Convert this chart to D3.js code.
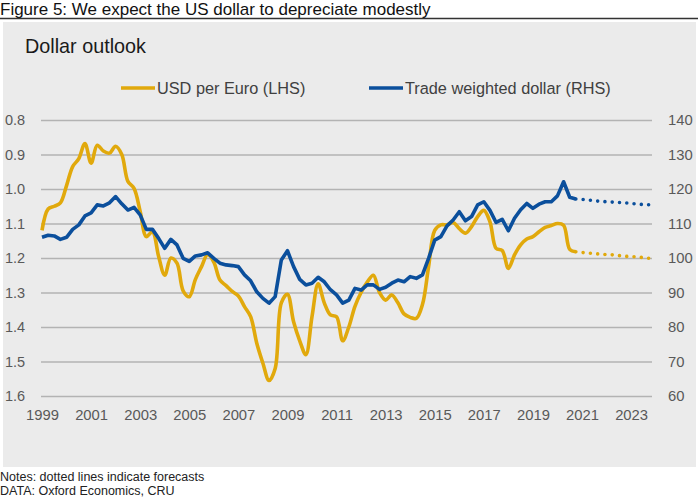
<!DOCTYPE html>
<html>

<head>
    <meta charset="utf-8">
    <title>Dollar outlook</title>
    <script type="text/javascript" src="https://cdn.jsdelivr.net/npm/d3@7"></script>
    <style>
        body { margin: 0; background: #fff; }
    </style>
</head>

<body>

    <script type="text/javascript">
    /* data: quarterly, 1999Q1 .. 2020Q4 actual, 2021Q1 .. 2023Q4 forecast */
    var firstYear = 1999;

    // USD per Euro (LHS, inverted)
    var usdPerEuro = [
        1.12, 1.058, 1.05, 1.04, 0.99, 0.935, 0.912, 0.868,       // 1999-2000
        0.925, 0.873, 0.89, 0.896, 0.876, 0.90, 0.978, 0.998,     // 2001-2002
        1.065, 1.138, 1.124, 1.195, 1.25, 1.20, 1.215, 1.295,     // 2003-2004
        1.312, 1.262, 1.225, 1.19, 1.212, 1.264, 1.28, 1.297,     // 2005-2006
        1.31, 1.341, 1.37, 1.447, 1.505, 1.555, 1.52, 1.33,       // 2007-2008
        1.305, 1.385, 1.44, 1.48, 1.37, 1.275, 1.33, 1.365,       // 2009-2010
        1.37, 1.44, 1.40, 1.34, 1.30, 1.27, 1.25, 1.30,           // 2011-2012
        1.322, 1.307, 1.33, 1.362, 1.372, 1.375, 1.335, 1.225,    // 2013-2014
        1.12, 1.104, 1.104, 1.097, 1.115, 1.128, 1.109, 1.08,     // 2015-2016
        1.062, 1.095, 1.172, 1.178, 1.23, 1.191, 1.162, 1.145,    // 2017-2018
        1.138, 1.124, 1.111, 1.106, 1.10, 1.105, 1.175, 1.182     // 2019-2020
    ];
    var usdPerEuroForecast = [1.184, 1.186, 1.187, 1.189, 1.190, 1.191, 1.193, 1.195, 1.196, 1.197, 1.199, 1.201];

    // Trade weighted dollar (RHS)
    var tradeWeighted = [
        106.0, 106.6, 106.4, 105.4, 106.0, 108.3, 109.6, 112.2,
        113.1, 115.4, 115.1, 116.0, 117.8, 115.7, 113.9, 114.7,
        112.5, 108.3, 108.3, 105.7, 102.8, 105.4, 103.8, 99.9,
        99.0, 100.6, 100.9, 101.5, 99.9, 98.5, 98.0, 97.8,
        97.5, 95.1, 93.4, 90.2, 88.3, 86.9, 88.8, 99.4,
        102.1, 97.5, 93.8, 92.2, 92.7, 94.4, 93.1, 90.8,
        89.3, 86.9, 87.8, 91.2, 90.7, 92.2, 92.2, 90.9,
        91.5, 92.7, 93.6, 93.1, 94.6, 94.1, 95.1, 99.9,
        105.2, 106.2, 109.3, 111.0, 113.4, 110.8, 112.0, 115.4,
        116.3, 113.8, 110.3, 111.2, 107.9, 111.5, 114.0, 115.8,
        114.4, 115.6, 116.3, 116.3, 118.0, 122.1, 117.6, 117.1
    ];
    var tradeWeightedForecast = [117.0, 116.8, 116.6, 116.4, 116.3, 116.2, 116.1, 116.0, 115.8, 115.6, 115.5, 115.4];

    var xTickYears = [1999, 2001, 2003, 2005, 2007, 2009, 2011, 2013, 2015, 2017, 2019, 2021, 2023];
    var leftTicks = [0.8, 0.9, 1.0, 1.1, 1.2, 1.3, 1.4, 1.5, 1.6];
    var rightTicks = [60, 70, 80, 90, 100, 110, 120, 130, 140];

    var seriesNames = ['USD per Euro (LHS)', 'Trade weighted dollar (RHS)'];
    var seriesColors = ['#e1a90c', '#0b4f9c'];

    function DollarChart() {
        var width = 698, height = 497;
        var plotLeft = 42, plotRight = 649.5, plotTop = 120, plotBottom = 396;
        var labelFont = '"Liberation Sans", Arial, sans-serif';
        var narrowFont = '"Liberation Sans Narrow", "Arial Narrow", "Liberation Sans", Arial, sans-serif';

        var svg = d3.select('body').append('svg')
            .attr('width', width)
            .attr('height', height);

        // header
        svg.append('text')
            .attr('x', 0).attr('y', 15)
            .attr('font-family', narrowFont)
            .attr('font-size', '17px')
            .attr('fill', '#111')
            .text('Figure 5: We expect the US dollar to depreciate modestly');
        svg.append('line')
            .attr('x1', 0).attr('x2', width)
            .attr('y1', 18.5).attr('y2', 18.5)
            .attr('stroke', '#333').attr('stroke-width', 1.5);

        // panel
        svg.append('rect')
            .attr('x', 3).attr('y', 22)
            .attr('width', 693).attr('height', 445)
            .attr('fill', '#ebebeb');

        svg.append('text')
            .attr('x', 25).attr('y', 53)
            .attr('font-family', labelFont)
            .attr('font-size', '19.8px')
            .attr('fill', '#1a1a1a')
            .text('Dollar outlook');

        /* scales */
        var x = d3.scaleLinear()
            .domain([firstYear, firstYear + 24.75])
            .range([plotLeft, plotRight]);
        var yLeft = d3.scaleLinear().domain([0.8, 1.6]).range([plotTop, plotBottom]);
        var yRight = d3.scaleLinear().domain([60, 140]).range([plotBottom, plotTop]);

        function qx(i) { return x(firstYear + i / 4); }

        /* gridlines + left axis */
        var leftAxis = d3.axisLeft(yLeft)
            .tickValues(leftTicks)
            .tickFormat(d3.format('.1f'))
            .tickSize(-(652 - 41))
            .tickPadding(13);
        var gl = svg.append('g')
            .attr('transform', 'translate(41,0)')
            .call(leftAxis);
        gl.select('.domain').remove();
        gl.selectAll('.tick line').attr('stroke', '#b3b3b3').attr('stroke-width', 1.3);
        gl.selectAll('.tick text')
            .attr('font-family', labelFont)
            .attr('font-size', '14.5px')
            .attr('fill', '#595959')
            .attr('text-anchor', 'start')
            .attr('x', -36);

        /* right axis */
        var rightAxis = d3.axisRight(yRight)
            .tickValues(rightTicks)
            .tickSize(0)
            .tickPadding(16);
        var gr = svg.append('g')
            .attr('transform', 'translate(652,0)')
            .call(rightAxis);
        gr.select('.domain').remove();
        gr.selectAll('.tick text')
            .attr('font-family', labelFont)
            .attr('font-size', '14.8px')
            .attr('fill', '#595959');

        /* bottom axis */
        var bottomAxis = d3.axisBottom(x)
            .tickValues(xTickYears)
            .tickFormat(d3.format('d'))
            .tickSize(0)
            .tickPadding(13);
        var gb = svg.append('g')
            .attr('transform', 'translate(0,' + plotBottom + ')')
            .call(bottomAxis);
        gb.select('.domain').remove();
        gb.selectAll('.tick text')
            .attr('font-family', labelFont)
            .attr('font-size', '14.8px')
            .attr('fill', '#595959');

        /* lines */
        var euroLine = d3.line()
            .x(function(d) { return qx(d.i); })
            .y(function(d) { return yLeft(d.v); })
            .curve(d3.curveCatmullRom.alpha(0.5));
        var twLine = d3.line()
            .x(function(d) { return qx(d.i); })
            .y(function(d) { return yRight(d.v); });

        function indexed(arr, start) {
            return arr.map(function(v, k) { return { i: start + k, v: v }; });
        }
        var nHist = usdPerEuro.length;
        var euroHist = indexed(usdPerEuro, 0);
        var euroFc = [euroHist[nHist - 1]].concat(indexed(usdPerEuroForecast, nHist));
        var twHist = indexed(tradeWeighted, 0);
        var twFc = [twHist[nHist - 1]].concat(indexed(tradeWeightedForecast, nHist));

        svg.append('path').datum(euroHist)
            .attr('d', euroLine)
            .attr('fill', 'none')
            .attr('stroke', seriesColors[0])
            .attr('stroke-width', 3.6)
            .attr('stroke-linejoin', 'round');
        svg.append('path').datum(euroFc)
            .attr('d', euroLine)
            .attr('fill', 'none')
            .attr('stroke', seriesColors[0])
            .attr('stroke-width', 3.6)
            .attr('stroke-linecap', 'round')
            .attr('stroke-dasharray', '0 7.3');

        svg.append('path').datum(twHist)
            .attr('d', twLine)
            .attr('fill', 'none')
            .attr('stroke', seriesColors[1])
            .attr('stroke-width', 3.6)
            .attr('stroke-linejoin', 'round');
        svg.append('path').datum(twFc)
            .attr('d', twLine)
            .attr('fill', 'none')
            .attr('stroke', seriesColors[1])
            .attr('stroke-width', 3.6)
            .attr('stroke-linecap', 'round')
            .attr('stroke-dasharray', '0 7.3');

        /* legend */
        var legendX = [121, 369];
        var legend = svg.selectAll('g.legend')
            .data(seriesNames)
            .enter()
            .append('g')
            .attr('class', 'legend')
            .attr('transform', function(d, i) { return 'translate(' + legendX[i] + ',88)'; });
        legend.append('line')
            .attr('x1', 0).attr('x2', 34)
            .attr('stroke', function(d, i) { return seriesColors[i]; })
            .attr('stroke-width', 3.6);
        legend.append('text')
            .attr('x', 36).attr('y', 6)
            .attr('font-family', labelFont)
            .attr('font-size', '16.3px')
            .attr('fill', '#404040')
            .text(function(d) { return d; });

        /* notes */
        svg.append('text')
            .attr('x', 0).attr('y', 481)
            .attr('font-family', narrowFont)
            .attr('font-size', '12.5px')
            .attr('fill', '#222')
            .text('Notes: dotted lines indicate forecasts');
        svg.append('text')
            .attr('x', 0).attr('y', 495)
            .attr('font-family', narrowFont)
            .attr('font-size', '12.5px')
            .attr('fill', '#222')
            .text('DATA: Oxford Economics, CRU');
    }

    DollarChart();
    </script>
</body>

</html>
